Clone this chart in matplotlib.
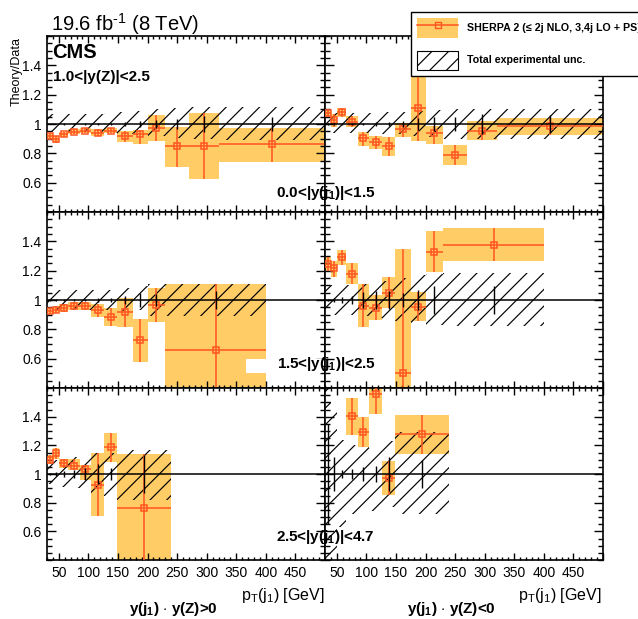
import numpy as np
import matplotlib
matplotlib.use("Agg")
import matplotlib.pyplot as plt
from matplotlib.patches import Patch, Rectangle
from matplotlib.lines import Line2D
from matplotlib.ticker import MultipleLocator, FixedLocator, FuncFormatter

plt.rcParams['font.family'] = ['Liberation Sans', 'DejaVu Sans']
plt.rcParams['mathtext.fontset'] = 'custom'
plt.rcParams['mathtext.rm'] = 'Liberation Sans'
plt.rcParams['mathtext.bf'] = 'Liberation Sans:bold'
plt.rcParams['mathtext.it'] = 'Liberation Sans:italic'
plt.rcParams['hatch.linewidth'] = 0.85

# pT(j1) bin edges [GeV]
edges_a = [30, 40, 50, 66, 85, 105, 127, 148, 175, 200, 230, 270, 320, 500]
edges_b = [30, 40, 50, 66, 85, 105, 127, 148, 175, 200, 230, 400]
edges_c = [30, 40, 50, 66, 85, 105, 127, 148, 240]

# 0.0<|y(j1)|<1.5, y(j1)*y(Z)>0
a_pos_ratio = [0.919, 0.896, 0.932, 0.948, 0.955, 0.941, 0.952, 0.921, 0.930, 0.971, 0.847, 0.849, 0.862]
a_pos_lo = [0.892, 0.871, 0.914, 0.932, 0.937, 0.919, 0.937, 0.880, 0.865, 0.882, 0.706, 0.627, 0.744]
a_pos_hi = [0.941, 0.919, 0.948, 0.964, 0.971, 0.964, 0.975, 0.952, 0.960, 1.062, 0.980, 1.072, 0.976]
a_pos_exp_lo = [0.945, 0.945, 0.945, 0.945, 0.945, 0.945, 0.94, 0.935, 0.925, 0.915, 0.905, 0.895, 0.894]
a_pos_exp_hi = [1.068, 1.068, 1.068, 1.07, 1.07, 1.07, 1.075, 1.08, 1.09, 1.10, 1.11, 1.115, 1.115]
a_pos_stat = [0.003, 0.003, 0.004, 0.005, 0.006, 0.008, 0.01, 0.015, 0.02, 0.025, 0.035, 0.055, 0.045]

# 0.0<|y(j1)|<1.5, y(j1)*y(Z)<0
a_neg_ratio = [1.077, 1.029, 1.079, 1.016, 0.905, 0.877, 0.853, 0.964, 1.110, 0.937, 0.792, 0.950, 0.985]
a_neg_lo = [1.045, 0.982, 1.050, 0.982, 0.853, 0.830, 0.785, 0.910, 0.887, 0.866, 0.722, 0.890, 0.923]
a_neg_hi = [1.100, 1.068, 1.107, 1.056, 0.948, 0.919, 0.910, 1.007, 1.360, 0.989, 0.858, 1.020, 1.040]
a_neg_exp_lo = [0.94, 0.94, 0.94, 0.94, 0.94, 0.94, 0.935, 0.93, 0.92, 0.91, 0.90, 0.90, 0.90]
a_neg_exp_hi = [1.075, 1.075, 1.075, 1.075, 1.075, 1.075, 1.08, 1.085, 1.09, 1.095, 1.10, 1.10, 1.10]
a_neg_stat = [0.004, 0.005, 0.006, 0.008, 0.01, 0.012, 0.015, 0.02, 0.04, 0.045, 0.05, 0.07, 0.06]

# 1.5<|y(j1)|<2.5, y(j1)*y(Z)>0
b_pos_ratio = [0.926, 0.935, 0.948, 0.962, 0.962, 0.930, 0.885, 0.915, 0.726, 0.964, 0.656]
b_pos_lo = [0.903, 0.908, 0.921, 0.930, 0.930, 0.885, 0.825, 0.818, 0.578, 0.847, 0.30]
b_pos_hi = [0.944, 0.960, 0.975, 0.989, 0.984, 0.971, 0.944, 1.011, 0.870, 1.079, 1.106]
b_pos_exp_lo = [0.93, 0.93, 0.93, 0.93, 0.93, 0.93, 0.93, 0.925, 0.93, 0.892, 0.892]
b_pos_exp_hi = [1.065, 1.065, 1.065, 1.065, 1.065, 1.065, 1.07, 1.08, 1.095, 1.106, 1.106]
b_pos_stat = [0.004, 0.005, 0.006, 0.008, 0.01, 0.012, 0.015, 0.025, 0.045, 0.04, 0.06]

# 1.5<|y(j1)|<2.5, y(j1)*y(Z)<0
b_neg_ratio = [1.245, 1.218, 1.292, 1.178, 0.960, 0.948, 1.049, 0.499, 0.953, 1.326, 1.375]
b_neg_lo = [1.196, 1.155, 1.240, 1.106, 0.818, 0.863, 0.944, 0.25, 0.854, 1.189, 1.263]
b_neg_hi = [1.290, 1.267, 1.342, 1.252, 1.106, 1.034, 1.155, 1.348, 1.056, 1.470, 1.488]
b_neg_exp_lo = [0.90, 0.90, 0.90, 0.90, 0.89, 0.88, 0.87, 0.86, 0.845, 0.83, 0.825]
b_neg_exp_hi = [1.10, 1.10, 1.10, 1.10, 1.11, 1.12, 1.13, 1.15, 1.17, 1.18, 1.185]
b_neg_stat = [0.01, 0.015, 0.02, 0.03, 0.055, 0.06, 0.06, 0.05, 0.07, 0.095, 0.095]

# 2.5<|y(j1)|<4.7, y(j1)*y(Z)>0
c_pos_ratio = [1.099, 1.149, 1.080, 1.053, 1.034, 0.926, 1.189, 0.763]
c_pos_lo = [1.069, 1.103, 1.041, 1.028, 0.960, 0.706, 1.085, 0.30]
c_pos_hi = [1.133, 1.184, 1.103, 1.103, 1.060, 1.149, 1.287, 1.143]
c_pos_exp_lo = [0.93, 0.92, 0.91, 0.90, 0.89, 0.86, 0.85, 0.82]
c_pos_exp_hi = [1.09, 1.10, 1.11, 1.12, 1.13, 1.15, 1.15, 1.17]
c_pos_stat = [0.01, 0.015, 0.02, 0.025, 0.04, 0.07, 0.04, 0.13]

# 2.5<|y(j1)|<4.7, y(j1)*y(Z)<0 (no prediction shown in the first bins)
c_neg_ratio = [np.nan, np.nan, np.nan, 1.407, 1.294, 1.559, 0.970, 1.276]
c_neg_lo = [np.nan, np.nan, np.nan, 1.269, 1.191, 1.418, 0.851, 1.138]
c_neg_hi = [np.nan, np.nan, np.nan, 1.533, 1.395, 1.650, 1.092, 1.414]
c_neg_exp_lo = [0.30, 0.45, 0.63, 0.72, 0.73, 0.74, 0.77, 0.72]
c_neg_exp_hi = [1.70, 1.45, 1.24, 1.20, 1.19, 1.18, 1.23, 1.29]
c_neg_stat = [0.35, 0.12, 0.03, 0.035, 0.05, 0.058, 0.12, 0.10]

BAND = '#ffcc66'
LINE = '#ff5522'
W, H = 638, 619

fig = plt.figure(figsize=(W / 100, H / 100), dpi=100)


def add_ax(x0, y0, x1, y1):
    return fig.add_axes([x0 / W, 1 - y1 / H, (x1 - x0) / W, (y1 - y0) / H])


def draw(ax, edges, ratio, lo, hi, exp_lo, exp_hi, stat):
    edges = np.array(edges, float)
    c = 0.5 * (edges[1:] + edges[:-1])
    w = np.diff(edges)
    ratio, lo, hi = np.array(ratio), np.array(lo), np.array(hi)
    exp_lo, exp_hi = np.array(exp_lo), np.array(exp_hi)
    m = ~np.isnan(ratio)

    ax.bar(c[m], hi[m] - lo[m], width=w[m], bottom=lo[m], color=BAND, lw=0, zorder=1)
    ax.bar(c, exp_hi - exp_lo, width=w, bottom=exp_lo, fill=False, hatch='//',
           edgecolor='k', lw=0, zorder=2)
    ax.errorbar(c[m], ratio[m], xerr=w[m] / 2, yerr=[ratio[m] - lo[m], hi[m] - ratio[m]],
                fmt='s', ms=4, mfc='none', mec=LINE, mew=1.1, ecolor=LINE,
                elinewidth=1.1, capsize=0, zorder=3)
    ax.errorbar(c, np.ones_like(c), yerr=stat, fmt='none', ecolor='k',
                elinewidth=1.0, capsize=0, zorder=4)
    ax.axhline(1, color='k', lw=1.1, zorder=4)


panels = [
    (0, 0, edges_a, a_pos_ratio, a_pos_lo, a_pos_hi, a_pos_exp_lo, a_pos_exp_hi, a_pos_stat),
    (0, 1, edges_a, a_neg_ratio, a_neg_lo, a_neg_hi, a_neg_exp_lo, a_neg_exp_hi, a_neg_stat),
    (1, 0, edges_b, b_pos_ratio, b_pos_lo, b_pos_hi, b_pos_exp_lo, b_pos_exp_hi, b_pos_stat),
    (1, 1, edges_b, b_neg_ratio, b_neg_lo, b_neg_hi, b_neg_exp_lo, b_neg_exp_hi, b_neg_stat),
    (2, 0, edges_c, c_pos_ratio, c_pos_lo, c_pos_hi, c_pos_exp_lo, c_pos_exp_hi, c_pos_stat),
    (2, 1, edges_c, c_neg_ratio, c_neg_lo, c_neg_hi, c_neg_exp_lo, c_neg_exp_hi, c_neg_stat),
]

cols = [(47, 325), (325, 603)]
rows = [(36, 212), (212, 388), (388, 560)]

for r, col, *data in panels:
    ax = add_ax(cols[col][0], rows[r][0], cols[col][1], rows[r][1])
    draw(ax, *data)
    ax.set_xlim(30, 500)
    ax.set_ylim(0.4, 1.6)
    ax.xaxis.set_major_locator(MultipleLocator(50))
    ax.xaxis.set_minor_locator(MultipleLocator(10))
    ax.yaxis.set_major_locator(FixedLocator([0.6, 0.8, 1.0, 1.2, 1.4]))
    ax.yaxis.set_minor_locator(MultipleLocator(0.05))
    ax.xaxis.set_major_formatter(FuncFormatter(lambda v, _: f"{v:g}" if v < 480 else ""))
    ax.yaxis.set_major_formatter(FuncFormatter(lambda v, _: f"{v:g}"))
    ax.tick_params(which='both', direction='in', top=True, right=True, width=1,
                   labelsize=10, pad=4)
    ax.tick_params(axis='x', which='major', length=5)
    ax.tick_params(axis='x', which='minor', length=2.5)
    ax.tick_params(axis='y', which='major', length=6.5)
    ax.tick_params(axis='y', which='minor', length=3.3)
    if r < 2:
        ax.tick_params(labelbottom=False)
    if col == 1:
        ax.tick_params(labelleft=False)
    for s in ax.spines.values():
        s.set_linewidth(1.2)

# white background box of the middle rapidity label
fig.add_artist(Rectangle((246 / W, 1 - 373 / H), 76 / W, 14 / H, transform=fig.transFigure,
                         facecolor='white', edgecolor='none', zorder=2))


def ftext(x, y, s, **kw):
    fig.text(x / W, 1 - y / H, s, **kw)


ftext(51, 31, r"19.6 fb$^{\text{-1}}$ (8 TeV)", fontsize=14.5, va='baseline')
ftext(52, 58, "CMS", fontsize=14.5, fontweight='bold', va='baseline')
ftext(53, 81.5, "1.0<|y(Z)|<2.5", fontsize=11, fontweight='bold', va='baseline')
ftext(17, 37, "Theory/Data", fontsize=9, rotation=90, ha='center', va='top')

ftext(276, 197, r"0.0<|y(j$_\mathbf{1}$)|<1.5", fontsize=11, fontweight='bold', va='baseline')
ftext(277, 368, r"1.5<|y(j$_\mathbf{1}$)|<2.5", fontsize=11, fontweight='bold', va='baseline')
ftext(276, 541, r"2.5<|y(j$_\mathbf{1}$)|<4.7", fontsize=11, fontweight='bold', va='baseline')

ftext(325, 600, r"p$_{\rm T}$(j$_{\rm 1}$) [GeV]", fontsize=11.5, ha='right', va='baseline')
ftext(602, 600, r"p$_{\rm T}$(j$_{\rm 1}$) [GeV]", fontsize=11.5, ha='right', va='baseline')
ftext(173.5, 613, r"y(j$_\mathbf{1}$) $\cdot$ y(Z)>0", fontsize=11, fontweight='bold',
      ha='center', va='baseline')
ftext(451, 613, r"y(j$_\mathbf{1}$) $\cdot$ y(Z)<0", fontsize=11, fontweight='bold',
      ha='center', va='baseline')

# legend
h1 = (Patch(facecolor=BAND, edgecolor='none'),
      Line2D([], [], color=LINE, lw=1.1, marker='s', ms=4, mfc='none', mec=LINE))
h2 = Patch(facecolor='white', edgecolor='k', hatch='//', lw=0.8)
leg = fig.legend([h1, h2], ["SHERPA 2 (\u2264 2j NLO, 3,4j LO + PS)", "Total experimental unc."],
                 loc='upper left', bbox_to_anchor=(411 / W, 1 - 12 / H), borderaxespad=0,
                 frameon=True, fancybox=False, edgecolor='k', framealpha=1,
                 borderpad=0.6, handlelength=3.8, handleheight=2.4, labelspacing=1.2,
                 handletextpad=0.85, prop=dict(weight='bold', size=7.7))
leg.get_frame().set_linewidth(1.0)

fig.savefig("out.png", dpi=100)
